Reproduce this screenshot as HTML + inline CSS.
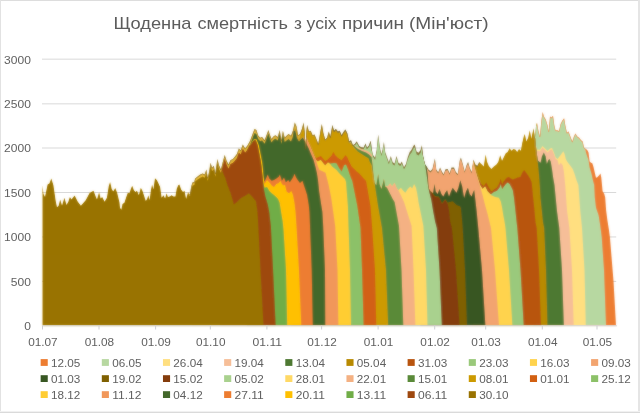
<!DOCTYPE html>
<html><head><meta charset="utf-8"><title>chart</title>
<style>html,body{margin:0;padding:0;background:#fff;overflow:hidden}body{width:640px;height:413px;font-family:"Liberation Sans",sans-serif}</style></head>
<body>
<svg width="640" height="413" viewBox="0 0 640 413" style="display:block;font-family:'Liberation Sans',sans-serif;will-change:transform;opacity:0.999">
<rect x="0" y="0" width="640" height="413" fill="#fff"/>
<rect x="42" y="58.65" width="574.2" height="1" fill="#D9D9D9"/>
<rect x="42" y="103.35" width="574.2" height="1" fill="#D9D9D9"/>
<rect x="42" y="147.50" width="574.2" height="1" fill="#D9D9D9"/>
<rect x="42" y="192.00" width="574.2" height="1" fill="#D9D9D9"/>
<rect x="42" y="236.45" width="574.2" height="1" fill="#D9D9D9"/>
<rect x="42" y="280.90" width="574.2" height="1" fill="#D9D9D9"/>
<text x="30.9" y="63.5" font-size="11.7" fill="#606060" text-anchor="end" textLength="26.8" lengthAdjust="spacingAndGlyphs">3000</text>
<text x="30.9" y="107.9" font-size="11.7" fill="#606060" text-anchor="end" textLength="26.8" lengthAdjust="spacingAndGlyphs">2500</text>
<text x="30.9" y="152.3" font-size="11.7" fill="#606060" text-anchor="end" textLength="26.8" lengthAdjust="spacingAndGlyphs">2000</text>
<text x="30.9" y="196.7" font-size="11.7" fill="#606060" text-anchor="end" textLength="26.8" lengthAdjust="spacingAndGlyphs">1500</text>
<text x="30.9" y="241.1" font-size="11.7" fill="#606060" text-anchor="end" textLength="26.8" lengthAdjust="spacingAndGlyphs">1000</text>
<text x="30.9" y="285.5" font-size="11.7" fill="#606060" text-anchor="end" textLength="20.1" lengthAdjust="spacingAndGlyphs">500</text>
<text x="30.9" y="329.9" font-size="11.7" fill="#606060" text-anchor="end" textLength="6.7" lengthAdjust="spacingAndGlyphs">0</text>
<filter id="soft" x="-2%" y="-2%" width="104%" height="104%"><feGaussianBlur in="SourceGraphic" stdDeviation="0.8" result="b"/><feComposite in="SourceGraphic" in2="b" operator="arithmetic" k1="0" k2="0.55" k3="0.45" k4="0"/></filter>
<g filter="url(#soft)">
<clipPath id="env"><polygon points="42.5,325.5 42.5,185.2 43.5,193.9 45.0,197.0 47.6,184.4 49.4,183.6 51.3,178.6 53.4,185.2 55.7,200.9 57.0,207.2 58.6,205.7 60.2,199.4 62.0,205.7 64.4,197.8 66.5,204.9 68.3,201.7 69.9,197.0 71.5,199.4 74.6,195.4 77.8,201.7 80.9,205.7 85.7,200.2 89.6,193.1 93.5,190.7 95.9,197.0 97.0,199.4 99.1,192.3 100.6,198.6 102.2,197.0 104.6,201.7 106.9,197.8 108.8,186.0 110.1,182.0 111.7,189.1 113.2,191.5 115.3,188.0 117.2,193.1 119.5,202.5 120.0,207.8 121.3,209.7 122.5,204.0 124.4,202.8 126.3,197.1 127.8,192.7 129.4,193.3 131.1,188.3 132.2,185.8 133.9,190.2 135.4,192.1 137.0,190.8 138.9,195.2 140.8,187.7 142.4,190.8 143.9,195.2 145.8,200.9 147.1,199.0 148.3,195.2 149.6,200.3 150.9,190.2 152.1,184.5 153.4,189.6 155.0,178.2 156.8,180.1 158.4,183.3 160.1,187.0 161.6,197.7 163.5,195.2 165.1,198.4 166.6,193.3 167.9,197.1 169.7,196.5 171.6,195.2 173.5,196.5 175.4,196.5 176.7,188.9 178.2,185.2 179.4,184.5 181.1,189.6 183.0,192.1 184.5,190.8 186.0,198.5 186.1,199.0 188.0,192.1 189.9,194.6 191.2,186.4 192.0,183.9 192.4,182.6 194.3,182.0 195.1,178.4 197.6,176.5 200.2,174.6 202.7,173.4 204.6,174.6 206.4,169.6 207.7,177.8 209.2,171.5 210.5,162.7 212.1,167.7 213.8,165.8 215.3,173.4 217.4,158.9 219.0,165.2 220.0,167.5 220.9,169.6 222.8,162.0 224.7,155.1 226.6,160.8 228.5,164.6 230.4,160.2 232.9,158.9 235.0,156.6 236.9,154.0 238.8,148.4 240.7,150.3 242.8,144.6 245.1,148.4 247.6,145.2 250.1,140.8 252.6,133.9 254.5,128.9 255.0,129.2 256.4,130.1 258.0,134.9 258.3,135.8 260.2,137.7 262.1,137.0 264.6,140.2 266.5,135.2 268.4,130.1 269.6,133.9 271.5,138.9 273.4,136.4 275.3,135.2 277.8,137.0 279.7,130.1 280.0,132.0 281.3,140.2 282.9,130.7 284.7,137.7 286.6,135.8 288.0,134.4 288.5,133.9 291.0,135.8 292.9,130.7 293.0,130.3 294.8,122.6 296.0,125.3 296.5,126.4 298.1,135.2 300.0,133.9 301.9,128.9 303.6,122.6 304.0,126.0 304.6,131.0 305.6,148.5 306.4,131.0 307.1,125.1 308.9,131.4 310.7,130.8 312.6,135.2 314.5,134.6 316.4,139.0 318.3,144.0 320.2,132.7 321.8,123.9 323.3,132.7 325.2,139.6 327.1,137.7 328.8,131.4 330.3,137.1 332.4,125.1 334.0,130.8 335.9,128.9 337.8,131.4 339.7,130.8 341.6,135.2 343.5,132.0 345.4,129.5 347.3,133.3 349.2,141.5 351.0,140.2 352.9,145.3 354.8,144.0 356.7,141.5 359.2,145.9 361.1,147.2 363.6,147.8 365.5,143.4 366.9,147.7 368.8,145.8 370.7,140.7 371.9,150.2 372.0,150.6 373.2,155.2 374.0,156.3 375.1,157.7 376.6,150.2 378.2,134.4 379.9,147.7 381.4,154.0 382.6,149.6 383.9,142.0 385.2,152.1 387.0,157.1 388.9,162.2 390.8,155.9 392.7,162.2 394.6,163.4 396.5,155.9 398.4,162.8 400.3,164.0 401.8,161.5 404.0,167.2 405.0,165.5 405.9,164.0 407.8,157.1 409.7,152.1 410.0,151.7 411.6,149.6 413.5,145.8 414.7,144.5 416.6,151.4 418.5,152.7 420.4,150.2 421.0,148.2 421.9,145.2 423.2,156.5 424.0,160.2 424.8,164.0 426.7,166.6 428.6,169.7 430.5,171.0 432.4,169.1 433.6,164.0 434.9,158.6 436.3,169.5 438.2,172.2 440.1,167.4 442.0,171.8 443.6,174.2 445.5,169.3 447.7,168.9 449.6,173.3 451.5,167.6 454.0,167.6 455.9,172.0 457.8,173.9 459.7,160.7 460.9,157.6 462.8,163.9 464.7,171.4 466.6,165.1 468.1,162.0 469.7,167.6 471.6,172.0 473.5,159.4 475.4,164.5 477.0,165.5 477.3,165.7 479.2,162.0 480.0,162.8 481.9,164.6 483.8,166.5 485.7,154.6 486.9,161.5 488.8,165.9 491.3,169.0 493.9,166.5 496.4,164.6 498.3,162.1 500.2,155.2 502.0,160.9 503.9,157.1 505.8,153.3 507.7,152.0 509.6,148.3 511.5,150.8 513.4,148.9 515.3,149.5 517.2,152.0 519.0,148.9 520.9,150.8 522.3,143.0 523.8,136.5 524.8,134.0 526.3,141.6 528.2,137.8 529.8,130.2 531.3,139.0 532.6,132.7 533.6,128.3 534.9,137.8 536.1,125.2 537.0,122.7 538.3,130.2 539.9,136.5 541.4,120.2 542.7,112.0 543.9,116.4 545.8,119.5 547.5,125.2 548.7,131.5 550.0,116.4 551.5,117.6 553.0,115.7 554.3,125.2 555.5,130.2 557.2,130.2 559.0,130.9 560.6,123.9 562.2,120.8 564.1,118.3 565.3,125.2 566.9,132.7 568.5,131.5 570.4,136.5 572.3,141.6 573.9,136.5 575.4,133.4 577.3,136.5 579.2,137.8 581.1,140.3 582.7,141.6 583.0,143.0 584.0,147.5 585.5,148.8 587.0,149.9 587.2,150.1 588.5,152.6 589.7,161.4 591.0,162.7 592.3,163.3 593.5,167.1 594.8,172.7 596.0,177.8 597.3,177.2 599.2,175.3 600.5,173.4 601.3,177.8 602.0,185.0 602.6,191.3 604.2,193.8 605.2,197.6 606.1,210.2 607.4,220.3 609.0,230.3 609.9,237.0 613.5,281.0 616.0,325.5 616.0,325.5"/></clipPath>
<g clip-path="url(#env)">
<rect x="42" y="90" width="258" height="240" fill="#D9AE35"/>
<rect x="300" y="90" width="30" height="240" fill="#C79A2A"/>
<rect x="330" y="90" width="150" height="240" fill="#857030"/>
<rect x="480" y="90" width="57" height="240" fill="#B88A00"/>
<rect x="537" y="90" width="49" height="240" fill="#E6A365"/>
<rect x="586" y="90" width="34" height="240" fill="#ED7D31"/>
<polygon points="191.2,325.5 191.2,188.0 192.0,185.9 192.4,184.6 194.3,184.0 195.1,180.5 197.6,178.6 200.2,176.7 202.7,175.6 204.6,176.8 206.4,171.9 207.7,180.1 209.2,173.8 210.5,165.0 212.1,170.1 213.8,168.2 215.3,175.8 217.4,161.4 219.0,167.7 220.0,170.0 220.9,172.1 222.8,164.6 224.7,157.8 226.6,163.5 228.5,167.4 230.4,163.0 232.9,161.8 235.0,159.6 236.9,157.0 238.8,151.4 240.7,153.3 242.8,147.6 245.1,151.4 247.6,148.2 250.1,143.8 252.6,136.9 254.5,131.9 255.0,132.2 256.4,132.9 258.0,137.4 258.0,325.5" fill="#F3C233"/>
<polygon points="533.2,325.5 533.2,131.1 533.6,129.3 534.9,138.8 536.1,126.2 537.0,123.7 538.3,131.2 539.9,137.5 541.4,121.2 542.7,113.0 543.9,117.4 545.8,120.5 547.5,126.2 548.7,132.5 550.0,117.4 551.5,118.6 553.0,116.7 554.3,126.2 555.5,131.2 557.2,131.2 559.0,131.9 560.6,124.9 562.2,121.8 564.1,119.3 565.3,126.2 566.9,133.7 568.5,132.5 570.4,137.5 572.3,142.6 573.9,137.5 575.4,134.4 577.3,137.5 579.2,138.8 581.1,141.3 582.7,142.6 583.0,144.0 583.5,146.3 586.0,152.6 588.5,160.2 589.7,167.7 591.6,174.0 592.9,180.3 594.2,185.0 594.8,197.6 596.0,207.7 598.6,215.2 600.2,225.3 601.7,237.0 604.0,270.0 606.0,325.5 606.0,325.5" fill="#B7D8A1"/>
<polygon points="533.2,325.5 533.2,131.1 533.6,129.3 534.9,138.8 535.2,138.0 535.8,145.0 537.0,149.5 540.0,149.8 542.5,146.1 545.0,148.6 547.6,151.1 550.1,148.6 552.0,147.9 553.9,152.5 555.7,157.6 557.6,158.9 559.5,156.4 561.4,153.9 563.3,151.3 564.6,153.9 565.8,158.9 567.1,161.4 569.0,163.9 570.9,166.5 572.7,169.0 574.6,174.0 576.5,180.3 578.4,185.0 580.3,211.0 582.0,228.0 584.5,270.0 585.8,325.5 585.8,325.5" fill="#FFDF80"/>
<polygon points="533.2,325.5 533.2,131.1 533.6,129.3 534.9,138.8 535.2,138.0 535.8,146.0 537.0,151.0 540.0,151.3 542.5,147.6 545.0,150.1 547.6,152.6 550.1,150.1 552.0,149.4 553.9,153.9 555.7,158.9 557.6,160.2 558.9,165.2 560.8,162.7 562.7,165.2 563.9,171.5 565.2,185.0 567.1,211.0 569.4,228.0 572.0,270.0 573.7,325.5 573.7,325.5" fill="#F6BE98"/>
<polygon points="533.2,325.5 533.2,131.1 533.6,129.3 534.9,138.8 535.2,138.0 535.9,146.0 537.0,155.0 538.0,160.5 540.5,162.7 541.9,156.4 543.8,152.6 545.7,156.4 546.9,163.9 548.2,160.2 549.4,158.9 550.7,161.4 552.0,169.0 553.2,177.8 554.5,185.0 557.0,211.0 559.3,228.0 562.0,270.0 563.9,325.5 563.9,325.5" fill="#4E7932"/>
<polygon points="472.2,325.5 472.2,169.4 473.5,160.8 475.4,165.9 477.0,166.9 477.3,167.1 479.2,163.1 480.0,163.8 481.9,165.6 483.8,167.5 485.7,155.6 486.9,162.5 488.8,166.9 491.3,170.0 493.9,167.5 496.4,165.6 498.3,163.1 500.2,156.2 502.0,161.9 503.9,158.1 505.8,154.3 507.7,153.0 509.6,149.3 511.5,151.8 513.4,149.9 515.3,150.5 517.2,153.0 519.0,149.9 520.9,151.8 522.3,144.0 523.8,137.5 524.8,135.0 526.3,142.6 528.2,138.8 529.8,131.2 531.3,140.0 532.6,133.7 533.6,129.3 534.9,138.8 535.2,138.0 535.9,146.0 537.0,155.0 538.4,167.8 539.2,176.3 539.9,186.4 540.5,197.7 541.8,210.3 543.0,222.0 544.2,228.0 546.0,270.0 547.5,325.5 547.5,325.5" fill="#B88A00"/>
<polygon points="472.2,325.5 472.2,169.4 473.5,160.8 474.2,166.0 476.7,174.0 478.6,179.5 481.3,184.0 483.8,186.0 486.3,182.6 488.9,187.6 491.4,191.5 493.9,189.5 497.0,187.6 499.6,182.6 500.8,178.8 502.1,184.5 503.3,182.0 505.2,179.4 507.1,177.6 509.0,176.9 510.9,178.4 512.8,179.5 515.3,178.4 517.8,177.6 520.3,177.0 522.2,172.8 524.1,170.0 526.0,172.5 527.9,175.0 529.8,178.0 531.7,182.5 532.9,195.2 534.2,207.8 535.5,222.0 536.7,228.0 539.0,270.0 541.0,325.5 541.0,325.5" fill="#B8540F"/>
<polygon points="472.2,325.5 472.2,169.4 473.5,160.8 474.2,166.0 476.7,174.7 478.6,180.5 480.0,185.1 482.6,188.9 485.1,186.4 487.6,191.4 490.1,193.9 491.4,194.0 493.9,192.0 497.0,190.8 499.6,187.6 500.8,183.9 502.1,188.9 504.0,186.4 505.9,183.9 507.7,182.6 509.6,183.9 511.5,187.6 512.8,190.2 514.0,197.7 515.1,207.8 515.9,215.3 516.6,222.0 517.3,228.0 520.5,270.0 523.7,325.5 523.7,325.5" fill="#9AC97B"/>
<polygon points="472.2,325.5 472.2,169.4 473.5,160.8 474.2,166.0 476.7,174.7 478.6,180.5 480.0,185.1 482.6,188.9 485.1,186.4 487.6,191.4 490.1,193.9 491.4,195.2 495.2,197.1 498.9,197.7 500.8,201.5 502.1,207.8 503.3,215.3 504.6,222.0 505.5,228.0 509.0,270.0 512.4,325.5 512.4,325.5" fill="#FFD34D"/>
<polygon points="421.3,325.5 421.3,149.9 421.9,147.6 423.2,158.3 424.0,161.7 424.8,165.4 426.7,168.0 428.6,171.1 430.5,172.4 432.4,170.5 433.6,165.4 434.9,160.0 436.3,170.9 438.2,173.6 440.1,168.8 442.0,173.2 443.6,175.6 445.5,170.7 447.7,170.3 449.6,174.7 451.5,169.0 454.0,169.0 455.9,173.4 457.8,175.3 459.7,162.1 460.9,159.0 462.8,165.3 464.7,172.8 466.6,166.5 468.1,163.4 469.7,169.0 471.6,173.4 473.5,160.8 474.2,166.0 476.7,175.2 478.6,181.5 480.5,187.8 482.6,195.2 485.1,205.3 487.6,214.1 489.5,222.0 491.0,228.0 495.0,270.0 499.0,325.5 499.0,325.5" fill="#F2A46F"/>
<polygon points="420.3,325.5 420.3,153.1 420.4,153.0 421.0,151.0 421.9,147.6 423.2,158.3 423.3,153.8 425.9,162.6 427.8,175.2 428.5,186.5 429.4,190.3 431.3,194.1 433.2,192.8 434.5,184.0 435.7,191.6 437.6,194.1 439.5,189.0 441.4,194.1 443.3,196.6 445.2,192.8 447.1,190.3 449.0,196.6 450.9,191.6 452.7,187.8 454.6,190.3 456.5,192.8 458.4,187.8 460.3,180.2 462.2,186.5 464.1,197.9 466.0,191.6 467.9,187.8 469.7,194.1 471.6,196.6 472.9,192.8 474.2,190.0 475.4,200.0 476.7,211.4 477.9,224.0 478.3,228.0 482.0,270.0 485.4,325.5 485.4,325.5" fill="#385723"/>
<polygon points="420.3,325.5 420.3,153.1 420.4,153.0 421.0,151.0 421.9,147.6 422.3,153.8 424.8,162.6 426.7,175.2 428.0,185.3 429.0,189.0 430.5,191.0 432.6,192.8 435.0,196.0 438.9,196.6 442.0,202.9 445.2,199.0 447.7,202.5 452.7,201.3 456.5,205.1 460.3,206.4 460.9,208.0 462.2,221.5 462.7,228.0 465.0,270.0 467.0,325.5 467.0,325.5" fill="#7F6000"/>
<polygon points="420.3,325.5 420.3,153.1 420.4,153.0 421.0,151.0 421.9,147.6 422.3,153.8 424.8,162.6 426.7,175.2 428.0,185.3 429.0,190.0 430.5,192.0 432.6,193.8 435.0,197.0 438.9,197.6 442.0,203.9 445.2,200.0 447.7,203.9 449.0,210.2 450.2,221.5 451.9,228.0 456.0,270.0 459.5,325.5 459.5,325.5" fill="#843C0C"/>
<polygon points="347.5,325.5 347.5,135.7 349.2,143.0 351.0,141.7 352.9,146.8 354.8,145.5 356.7,143.0 359.2,147.4 361.1,148.7 363.6,149.3 365.5,144.9 366.9,149.2 368.8,147.3 370.7,142.2 371.9,151.7 372.0,152.1 373.2,157.0 374.0,158.3 375.1,159.7 376.6,152.2 378.2,136.4 379.9,149.7 381.4,156.0 382.6,151.6 383.9,144.0 385.2,154.1 387.0,159.1 388.9,164.2 390.8,157.9 392.7,164.2 394.6,165.4 396.5,157.9 398.4,164.8 400.3,166.0 401.8,163.5 404.0,169.2 405.0,167.5 405.9,166.1 407.8,159.5 409.7,154.9 410.0,154.5 411.6,152.4 413.5,148.6 414.7,147.3 416.6,154.2 418.5,155.5 420.4,153.0 421.0,151.0 421.9,147.6 422.3,153.8 424.8,162.6 426.7,175.2 428.0,185.3 428.8,190.0 431.3,200.0 433.2,211.4 435.1,221.5 436.8,228.0 439.5,270.0 441.8,325.5 441.8,325.5" fill="#A9D18E"/>
<polygon points="347.5,325.5 347.5,135.7 349.2,143.0 349.5,143.0 350.4,142.6 354.2,145.5 358.0,148.0 362.0,149.5 366.0,150.5 369.0,152.0 371.8,155.0 372.6,165.0 373.5,175.0 374.4,182.7 376.3,185.3 378.2,173.9 379.5,184.0 381.4,188.0 383.9,179.0 385.2,186.0 387.0,186.5 388.3,185.9 390.2,183.4 392.1,186.5 394.6,182.7 396.5,187.8 398.4,190.3 400.9,187.8 402.8,190.3 405.3,192.8 407.8,189.0 410.3,186.5 412.2,188.4 414.1,184.0 416.0,187.8 417.3,194.1 418.5,202.0 423.4,226.0 426.0,270.0 427.5,325.5 427.5,325.5" fill="#FFD966"/>
<polygon points="347.5,325.5 347.5,135.7 349.2,143.0 349.5,143.0 350.4,142.6 354.2,145.5 358.0,148.0 362.0,149.5 366.0,150.5 369.0,152.0 371.8,155.0 372.6,165.0 373.5,175.0 374.4,182.7 376.3,185.3 378.2,173.9 379.5,184.0 381.4,188.0 383.9,179.0 385.2,186.0 387.0,186.5 388.3,185.9 390.2,183.4 392.1,186.5 394.6,182.7 396.5,187.8 398.4,190.3 401.5,196.6 404.0,202.0 411.6,226.0 413.5,270.0 415.4,325.5 415.4,325.5" fill="#F4B183"/>
<polygon points="347.5,325.5 347.5,135.7 349.2,143.0 349.5,143.0 350.4,142.6 354.2,146.0 358.0,149.0 362.0,151.0 366.0,152.5 369.0,154.5 371.5,157.0 372.6,165.0 373.5,175.0 374.4,182.7 376.3,185.3 378.2,173.9 379.5,184.0 381.4,189.0 383.9,179.0 385.2,186.5 387.0,187.8 388.3,190.3 390.2,194.1 392.7,199.1 394.6,202.0 399.0,226.0 401.5,270.0 403.3,325.5 403.3,325.5" fill="#5A8A39"/>
<polygon points="291.5,325.5 291.5,140.2 292.9,136.7 293.0,136.3 294.8,128.0 296.0,130.3 296.5,131.2 298.1,139.4 300.0,137.4 301.9,131.5 303.6,124.3 304.0,127.5 304.6,132.5 305.6,150.0 306.4,132.5 307.1,126.6 308.9,132.9 310.7,132.3 312.6,136.7 314.5,136.1 316.4,140.5 318.3,145.5 320.2,134.2 321.8,125.4 323.3,134.2 325.2,141.1 327.1,139.2 328.8,132.9 330.3,138.6 332.4,126.6 334.0,132.3 335.9,130.4 337.8,132.9 339.7,132.3 341.6,136.7 343.5,133.5 345.4,131.0 347.3,134.8 349.2,143.0 349.5,143.0 350.4,142.6 354.2,147.6 357.9,151.4 361.7,153.9 365.5,156.4 368.6,158.3 369.9,162.1 371.8,165.2 373.0,172.8 374.3,181.0 378.1,206.0 382.0,228.0 386.0,270.0 388.2,325.5 388.2,325.5" fill="#CC9A00"/>
<polygon points="291.5,325.5 291.5,140.2 292.9,136.7 293.0,136.3 293.5,131.0 295.2,130.6 297.0,138.0 299.0,141.5 301.0,139.0 303.0,137.5 304.2,139.0 304.8,134.0 306.5,137.5 311.0,147.5 313.4,153.5 315.4,158.0 317.6,157.5 320.8,156.0 323.3,159.0 325.2,161.0 327.1,160.0 331.5,155.8 333.4,152.0 335.3,155.2 337.8,157.7 341.6,160.2 343.5,157.7 345.3,155.2 347.2,157.0 349.1,161.4 351.6,166.5 354.2,169.0 356.7,171.5 359.8,174.0 363.0,177.8 366.1,181.0 370.5,206.0 372.2,228.0 375.0,270.0 376.3,325.5 376.3,325.5" fill="#D26012"/>
<polygon points="291.5,325.5 291.5,140.2 292.9,136.7 293.0,136.3 293.5,131.0 295.2,130.6 297.0,138.0 299.0,141.5 301.0,139.0 303.0,137.5 304.2,139.0 304.8,134.0 306.5,138.0 311.0,148.3 313.6,154.5 316.0,160.0 317.8,161.5 320.8,160.0 323.0,163.0 325.2,165.5 328.0,162.5 330.2,163.5 334.0,163.0 336.5,163.3 339.0,167.7 341.6,171.5 344.1,165.2 346.0,164.6 347.9,169.0 349.5,174.0 351.0,178.0 352.3,181.0 357.3,206.0 360.5,228.0 362.0,270.0 363.6,325.5 363.6,325.5" fill="#8CC168"/>
<polygon points="291.5,325.5 291.5,140.2 292.9,136.7 293.0,136.3 293.5,131.0 295.2,130.6 297.0,138.0 299.0,141.5 301.0,139.0 303.0,137.5 304.2,139.0 304.8,134.0 306.5,138.0 311.0,148.3 313.6,154.5 316.0,160.0 317.8,161.5 320.8,160.0 323.0,163.0 325.2,165.5 328.0,162.5 330.2,164.0 332.1,166.5 334.0,168.0 336.5,170.0 339.0,173.0 342.0,176.0 345.0,179.0 346.0,182.0 347.9,206.0 348.5,226.0 350.0,270.0 351.0,325.5 351.0,325.5" fill="#FFCD33"/>
<polygon points="291.5,325.5 291.5,140.2 292.9,136.7 293.0,136.3 293.5,131.0 295.2,130.6 297.0,138.0 299.0,141.5 301.0,139.0 303.0,137.5 304.2,139.0 304.8,134.0 306.5,138.0 311.0,148.3 313.6,154.5 316.0,160.0 317.8,166.0 319.5,170.0 322.0,171.0 325.5,172.8 327.4,180.0 328.7,185.2 331.2,197.8 333.0,210.4 335.2,226.0 337.5,270.0 338.4,325.5 338.4,325.5" fill="#F1975A"/>
<polygon points="247.0,325.5 247.0,150.0 247.6,149.2 250.1,144.8 252.6,137.9 254.5,132.9 255.0,133.2 256.4,133.9 258.0,138.4 258.3,139.3 260.2,141.2 262.1,140.5 264.6,143.7 266.5,138.7 268.4,133.6 269.6,137.4 271.5,142.4 273.4,139.9 275.3,138.7 277.8,140.5 279.7,133.6 280.0,135.5 281.3,143.9 282.9,134.7 284.7,142.1 286.6,140.5 288.0,139.4 288.5,139.0 291.0,141.4 292.9,136.7 293.0,136.3 293.5,131.0 295.2,130.6 297.0,138.0 299.0,141.5 301.0,139.0 303.0,137.5 304.0,140.0 306.0,143.0 308.6,148.3 311.2,154.5 313.6,160.0 315.5,167.0 316.9,173.0 318.0,180.0 319.2,191.5 321.1,204.0 322.4,212.0 323.2,226.0 325.0,270.0 325.3,325.5 325.3,325.5" fill="#43682B"/>
<polygon points="247.0,325.5 247.0,150.0 247.6,149.2 249.0,146.3 251.0,144.0 253.9,140.2 255.8,140.2 257.7,145.2 259.6,155.3 260.8,161.6 261.3,166.0 262.0,172.0 263.5,180.0 264.6,181.5 267.8,174.4 269.3,178.4 271.7,180.7 274.0,180.0 276.4,178.4 278.8,176.8 279.9,174.4 281.9,180.7 284.0,177.6 285.9,182.3 288.2,180.0 289.8,182.3 293.0,177.6 294.5,173.7 296.1,177.6 297.7,180.0 300.0,183.1 302.4,180.7 304.0,185.5 305.6,190.2 307.1,194.9 308.7,204.4 309.5,212.2 310.0,226.0 311.7,270.0 312.8,325.5 312.8,325.5" fill="#ED7D31"/>
<polygon points="247.0,325.5 247.0,150.0 247.6,149.2 249.0,146.3 251.0,143.5 253.9,139.2 256.6,139.2 258.9,145.2 260.9,155.3 262.1,161.6 262.7,166.0 263.3,173.0 264.2,182.0 264.6,183.9 267.0,180.0 269.3,182.3 271.7,185.5 274.0,187.0 276.4,183.9 278.8,183.1 280.4,180.7 281.9,183.9 283.5,185.5 285.0,184.7 286.7,191.8 289.0,193.3 291.4,191.0 293.0,194.9 294.5,202.8 295.6,212.2 296.5,226.0 299.0,270.0 301.3,325.5 301.3,325.5" fill="#FFC000"/>
<polygon points="247.0,325.5 247.0,150.0 247.6,149.2 249.0,146.3 251.0,144.0 253.9,140.2 255.8,140.2 257.7,145.2 259.6,155.3 260.8,161.6 261.5,166.0 262.2,174.0 263.5,184.0 264.6,187.8 267.0,187.0 269.3,191.0 271.7,193.3 274.0,195.0 276.4,197.3 278.0,198.9 279.6,202.8 281.1,212.2 282.7,221.7 283.5,230.0 286.0,270.0 287.2,325.5 287.2,325.5" fill="#70AD47"/>
<polygon points="220.2,325.5 220.2,171.5 220.9,173.1 222.8,165.6 224.7,158.8 226.6,164.5 228.5,168.4 230.4,164.0 232.9,162.8 235.0,160.6 236.9,158.0 238.8,152.4 240.7,154.3 242.8,148.6 245.1,152.4 247.6,149.2 249.0,146.3 251.0,144.0 253.9,140.2 255.8,140.2 257.7,145.2 259.6,155.3 260.8,161.6 261.5,167.0 262.2,172.9 263.0,180.7 263.8,188.6 265.4,196.5 267.8,204.4 269.3,212.2 270.9,226.0 273.1,270.0 275.7,325.5 275.7,325.5" fill="#9E480E"/>
<polygon points="42.5,325.5 42.5,185.2 43.5,193.9 45.0,197.0 47.6,184.4 49.4,183.6 51.3,178.6 53.4,185.2 55.7,200.9 57.0,207.2 58.6,205.7 60.2,199.4 62.0,205.7 64.4,197.8 66.5,204.9 68.3,201.7 69.9,197.0 71.5,199.4 74.6,195.4 77.8,201.7 80.9,205.7 85.7,200.2 89.6,193.1 93.5,190.7 95.9,197.0 97.0,199.4 99.1,192.3 100.6,198.6 102.2,197.0 104.6,201.7 106.9,197.8 108.8,186.0 110.1,182.0 111.7,189.1 113.2,191.5 115.3,188.0 117.2,193.1 119.5,202.5 120.0,207.8 121.3,209.7 122.5,204.0 124.4,202.8 126.3,197.1 127.8,192.7 129.4,193.3 131.1,188.3 132.2,185.8 133.9,190.2 135.4,192.1 137.0,190.8 138.9,195.2 140.8,187.7 142.4,190.8 143.9,195.2 145.8,200.9 147.1,199.0 148.3,195.2 149.6,200.3 150.9,190.2 152.1,184.5 153.4,189.6 155.0,178.2 156.8,180.1 158.4,183.3 160.1,187.0 161.6,197.7 163.5,195.2 165.1,198.4 166.6,193.3 167.9,197.1 169.7,196.5 171.6,195.2 173.5,196.5 175.4,196.5 176.7,188.9 178.2,185.2 179.4,184.5 181.1,189.6 183.0,192.1 184.5,190.8 186.0,198.5 186.1,199.1 188.0,193.1 189.9,196.6 191.2,189.0 192.0,186.9 192.4,185.6 194.3,185.0 195.1,181.5 197.6,179.6 200.2,177.7 202.7,176.6 204.6,177.8 206.4,172.9 207.7,181.1 209.2,174.8 210.5,166.0 212.1,171.1 213.8,169.2 215.3,176.8 217.4,162.4 219.0,168.7 220.0,171.0 220.9,173.1 222.2,170.2 223.5,174.0 225.3,178.0 227.6,185.5 230.7,193.3 233.9,204.4 237.0,202.0 241.0,198.0 246.5,195.0 248.9,193.3 252.0,196.5 256.0,201.2 257.5,212.0 258.3,226.0 260.5,270.0 263.5,325.5 263.5,325.5" fill="#997300"/>
<polyline points="189.9,194.6 191.2,186.4 192.0,183.9 192.4,182.6 194.3,182.0 195.1,178.4 197.6,176.5 200.2,174.6 202.7,173.4 204.6,174.6 206.4,169.6 207.7,177.8 209.2,171.5 210.5,162.7 212.1,167.7 213.8,165.8 215.3,173.4 217.4,158.9 219.0,165.2 220.0,167.5 220.9,169.6 222.8,162.0 224.7,155.1 226.6,160.8 228.5,164.6 230.4,160.2 232.9,158.9 235.0,156.6 236.9,154.0 238.8,148.4 240.7,150.3 242.8,144.6 245.1,148.4 247.6,145.2 250.1,140.8 252.6,133.9 254.5,128.9 255.0,129.2 256.4,130.1 258.0,134.9 258.3,135.8 260.2,137.7 262.1,137.0 264.6,140.2 266.5,135.2 268.4,130.1 269.6,133.9 271.5,138.9 273.4,136.4 275.3,135.2 277.8,137.0 279.7,130.1 280.0,132.0 281.3,140.2 282.9,130.7 284.7,137.7 286.6,135.8 288.0,134.4 288.5,133.9 291.0,135.8 292.9,130.7 293.0,130.3 294.8,122.6 296.0,125.3 296.5,126.4 298.1,135.2 300.0,133.9 301.9,128.9 303.6,122.6 304.0,126.0 304.6,131.0 305.6,148.5 306.4,131.0 307.1,125.1 308.9,131.4 310.7,130.8 312.6,135.2 314.5,134.6 316.4,139.0 318.3,144.0 320.2,132.7 321.8,123.9 323.3,132.7 325.2,139.6 327.1,137.7 328.8,131.4 330.3,137.1 332.4,125.1 334.0,130.8 335.9,128.9 337.8,131.4 339.7,130.8 341.6,135.2 343.5,132.0 345.4,129.5 347.3,133.3 349.2,141.5 351.0,140.2 352.9,145.3 354.8,144.0 356.7,141.5 359.2,145.9 361.1,147.2 363.6,147.8 365.5,143.4 366.9,147.7 368.8,145.8 370.7,140.7 371.9,150.2 372.0,150.6" fill="none" stroke="#7A6220" stroke-width="1.4" stroke-opacity="0.7" stroke-linejoin="round"/>
<polyline points="537.0,122.7 538.3,130.2 539.9,136.5 541.4,120.2 542.7,112.0 543.9,116.4 545.8,119.5 547.5,125.2 548.7,131.5 550.0,116.4 551.5,117.6 553.0,115.7 554.3,125.2 555.5,130.2 557.2,130.2 559.0,130.9 560.6,123.9 562.2,120.8 564.1,118.3 565.3,125.2 566.9,132.7 568.5,131.5 570.4,136.5 572.3,141.6 573.9,136.5 575.4,133.4 577.3,136.5 579.2,137.8 581.1,140.3 582.7,141.6 583.0,143.0 584.0,147.5 585.5,148.8 587.0,149.9 587.2,150.1" fill="none" stroke="#ED7D31" stroke-width="1.2" stroke-opacity="0.6" stroke-linejoin="round"/>
</g>
</g>
<rect x="42.5" y="325.3" width="574.5" height="1" fill="#D9D9D9"/>
<rect x="42.0" y="325.5" width="1" height="4" fill="#CFCFD4"/>
<text x="42.9" y="346.4" font-size="11.7" fill="#606060" text-anchor="middle" textLength="29.5" lengthAdjust="spacingAndGlyphs">01.07</text>
<rect x="98.5" y="325.5" width="1" height="4" fill="#CFCFD4"/>
<text x="99.4" y="346.4" font-size="11.7" fill="#606060" text-anchor="middle" textLength="29.5" lengthAdjust="spacingAndGlyphs">01.08</text>
<rect x="155.1" y="325.5" width="1" height="4" fill="#CFCFD4"/>
<text x="156.0" y="346.4" font-size="11.7" fill="#606060" text-anchor="middle" textLength="29.5" lengthAdjust="spacingAndGlyphs">01.09</text>
<rect x="209.8" y="325.5" width="1" height="4" fill="#CFCFD4"/>
<text x="210.7" y="346.4" font-size="11.7" fill="#606060" text-anchor="middle" textLength="29.5" lengthAdjust="spacingAndGlyphs">01.10</text>
<rect x="266.4" y="325.5" width="1" height="4" fill="#CFCFD4"/>
<text x="267.3" y="346.4" font-size="11.7" fill="#606060" text-anchor="middle" textLength="29.5" lengthAdjust="spacingAndGlyphs">01.11</text>
<rect x="321.1" y="325.5" width="1" height="4" fill="#CFCFD4"/>
<text x="322.0" y="346.4" font-size="11.7" fill="#606060" text-anchor="middle" textLength="29.5" lengthAdjust="spacingAndGlyphs">01.12</text>
<rect x="377.6" y="325.5" width="1" height="4" fill="#CFCFD4"/>
<text x="378.5" y="346.4" font-size="11.7" fill="#606060" text-anchor="middle" textLength="29.5" lengthAdjust="spacingAndGlyphs">01.01</text>
<rect x="434.2" y="325.5" width="1" height="4" fill="#CFCFD4"/>
<text x="435.1" y="346.4" font-size="11.7" fill="#606060" text-anchor="middle" textLength="29.5" lengthAdjust="spacingAndGlyphs">01.02</text>
<rect x="485.2" y="325.5" width="1" height="4" fill="#CFCFD4"/>
<text x="486.1" y="346.4" font-size="11.7" fill="#606060" text-anchor="middle" textLength="29.5" lengthAdjust="spacingAndGlyphs">01.03</text>
<rect x="541.8" y="325.5" width="1" height="4" fill="#CFCFD4"/>
<text x="542.7" y="346.4" font-size="11.7" fill="#606060" text-anchor="middle" textLength="29.5" lengthAdjust="spacingAndGlyphs">01.04</text>
<rect x="596.5" y="325.5" width="1" height="4" fill="#CFCFD4"/>
<text x="597.4" y="346.4" font-size="11.7" fill="#606060" text-anchor="middle" textLength="29.5" lengthAdjust="spacingAndGlyphs">01.05</text>
<text x="113.4" y="29" font-size="16.4" fill="#5c5c5c" textLength="78.0" lengthAdjust="spacingAndGlyphs">Щоденна</text>
<text x="197.4" y="29" font-size="16.4" fill="#5c5c5c" textLength="90.6" lengthAdjust="spacingAndGlyphs">смертність</text>
<text x="293.9" y="29" font-size="16.4" fill="#5c5c5c" textLength="7.9" lengthAdjust="spacingAndGlyphs">з</text>
<text x="306.6" y="29" font-size="16.4" fill="#5c5c5c" textLength="30.0" lengthAdjust="spacingAndGlyphs">усіх</text>
<text x="342.0" y="29" font-size="16.4" fill="#5c5c5c" textLength="62.0" lengthAdjust="spacingAndGlyphs">причин</text>
<text x="408.9" y="29" font-size="16.4" fill="#5c5c5c" textLength="79.8" lengthAdjust="spacingAndGlyphs">(Мін'юст)</text>
<rect x="40.65" y="359.1" width="7.1" height="6.8" fill="#ED7D31"/>
<text x="65.70" y="366.8" font-size="11.7" fill="#606060" text-anchor="middle" textLength="29.3" lengthAdjust="spacingAndGlyphs">12.05</text>
<rect x="101.81" y="359.1" width="7.1" height="6.8" fill="#B7D8A1"/>
<text x="126.86" y="366.8" font-size="11.7" fill="#606060" text-anchor="middle" textLength="29.3" lengthAdjust="spacingAndGlyphs">06.05</text>
<rect x="162.97" y="359.1" width="7.1" height="6.8" fill="#FFDF80"/>
<text x="188.02" y="366.8" font-size="11.7" fill="#606060" text-anchor="middle" textLength="29.3" lengthAdjust="spacingAndGlyphs">26.04</text>
<rect x="224.13" y="359.1" width="7.1" height="6.8" fill="#F6BE98"/>
<text x="249.18" y="366.8" font-size="11.7" fill="#606060" text-anchor="middle" textLength="29.3" lengthAdjust="spacingAndGlyphs">19.04</text>
<rect x="285.29" y="359.1" width="7.1" height="6.8" fill="#4E7932"/>
<text x="310.34" y="366.8" font-size="11.7" fill="#606060" text-anchor="middle" textLength="29.3" lengthAdjust="spacingAndGlyphs">13.04</text>
<rect x="346.45" y="359.1" width="7.1" height="6.8" fill="#B88A00"/>
<text x="371.50" y="366.8" font-size="11.7" fill="#606060" text-anchor="middle" textLength="29.3" lengthAdjust="spacingAndGlyphs">05.04</text>
<rect x="407.61" y="359.1" width="7.1" height="6.8" fill="#B8540F"/>
<text x="432.66" y="366.8" font-size="11.7" fill="#606060" text-anchor="middle" textLength="29.3" lengthAdjust="spacingAndGlyphs">31.03</text>
<rect x="468.77" y="359.1" width="7.1" height="6.8" fill="#9AC97B"/>
<text x="493.82" y="366.8" font-size="11.7" fill="#606060" text-anchor="middle" textLength="29.3" lengthAdjust="spacingAndGlyphs">23.03</text>
<rect x="529.93" y="359.1" width="7.1" height="6.8" fill="#FFD34D"/>
<text x="554.98" y="366.8" font-size="11.7" fill="#606060" text-anchor="middle" textLength="29.3" lengthAdjust="spacingAndGlyphs">16.03</text>
<rect x="591.09" y="359.1" width="7.1" height="6.8" fill="#F2A46F"/>
<text x="616.14" y="366.8" font-size="11.7" fill="#606060" text-anchor="middle" textLength="29.3" lengthAdjust="spacingAndGlyphs">09.03</text>
<rect x="40.65" y="375.2" width="7.1" height="6.8" fill="#385723"/>
<text x="65.70" y="382.9" font-size="11.7" fill="#606060" text-anchor="middle" textLength="29.3" lengthAdjust="spacingAndGlyphs">01.03</text>
<rect x="101.81" y="375.2" width="7.1" height="6.8" fill="#7F6000"/>
<text x="126.86" y="382.9" font-size="11.7" fill="#606060" text-anchor="middle" textLength="29.3" lengthAdjust="spacingAndGlyphs">19.02</text>
<rect x="162.97" y="375.2" width="7.1" height="6.8" fill="#843C0C"/>
<text x="188.02" y="382.9" font-size="11.7" fill="#606060" text-anchor="middle" textLength="29.3" lengthAdjust="spacingAndGlyphs">15.02</text>
<rect x="224.13" y="375.2" width="7.1" height="6.8" fill="#A9D18E"/>
<text x="249.18" y="382.9" font-size="11.7" fill="#606060" text-anchor="middle" textLength="29.3" lengthAdjust="spacingAndGlyphs">05.02</text>
<rect x="285.29" y="375.2" width="7.1" height="6.8" fill="#FFD966"/>
<text x="310.34" y="382.9" font-size="11.7" fill="#606060" text-anchor="middle" textLength="29.3" lengthAdjust="spacingAndGlyphs">28.01</text>
<rect x="346.45" y="375.2" width="7.1" height="6.8" fill="#F4B183"/>
<text x="371.50" y="382.9" font-size="11.7" fill="#606060" text-anchor="middle" textLength="29.3" lengthAdjust="spacingAndGlyphs">22.01</text>
<rect x="407.61" y="375.2" width="7.1" height="6.8" fill="#5A8A39"/>
<text x="432.66" y="382.9" font-size="11.7" fill="#606060" text-anchor="middle" textLength="29.3" lengthAdjust="spacingAndGlyphs">15.01</text>
<rect x="468.77" y="375.2" width="7.1" height="6.8" fill="#CC9A00"/>
<text x="493.82" y="382.9" font-size="11.7" fill="#606060" text-anchor="middle" textLength="29.3" lengthAdjust="spacingAndGlyphs">08.01</text>
<rect x="529.93" y="375.2" width="7.1" height="6.8" fill="#D26012"/>
<text x="554.98" y="382.9" font-size="11.7" fill="#606060" text-anchor="middle" textLength="29.3" lengthAdjust="spacingAndGlyphs">01.01</text>
<rect x="591.09" y="375.2" width="7.1" height="6.8" fill="#8CC168"/>
<text x="616.14" y="382.9" font-size="11.7" fill="#606060" text-anchor="middle" textLength="29.3" lengthAdjust="spacingAndGlyphs">25.12</text>
<rect x="40.65" y="391.2" width="7.1" height="6.8" fill="#FFCD33"/>
<text x="65.70" y="398.9" font-size="11.7" fill="#606060" text-anchor="middle" textLength="29.3" lengthAdjust="spacingAndGlyphs">18.12</text>
<rect x="101.81" y="391.2" width="7.1" height="6.8" fill="#F1975A"/>
<text x="126.86" y="398.9" font-size="11.7" fill="#606060" text-anchor="middle" textLength="29.3" lengthAdjust="spacingAndGlyphs">11.12</text>
<rect x="162.97" y="391.2" width="7.1" height="6.8" fill="#43682B"/>
<text x="188.02" y="398.9" font-size="11.7" fill="#606060" text-anchor="middle" textLength="29.3" lengthAdjust="spacingAndGlyphs">04.12</text>
<rect x="224.13" y="391.2" width="7.1" height="6.8" fill="#ED7D31"/>
<text x="249.18" y="398.9" font-size="11.7" fill="#606060" text-anchor="middle" textLength="29.3" lengthAdjust="spacingAndGlyphs">27.11</text>
<rect x="285.29" y="391.2" width="7.1" height="6.8" fill="#FFC000"/>
<text x="310.34" y="398.9" font-size="11.7" fill="#606060" text-anchor="middle" textLength="29.3" lengthAdjust="spacingAndGlyphs">20.11</text>
<rect x="346.45" y="391.2" width="7.1" height="6.8" fill="#70AD47"/>
<text x="371.50" y="398.9" font-size="11.7" fill="#606060" text-anchor="middle" textLength="29.3" lengthAdjust="spacingAndGlyphs">13.11</text>
<rect x="407.61" y="391.2" width="7.1" height="6.8" fill="#9E480E"/>
<text x="432.66" y="398.9" font-size="11.7" fill="#606060" text-anchor="middle" textLength="29.3" lengthAdjust="spacingAndGlyphs">06.11</text>
<rect x="468.77" y="391.2" width="7.1" height="6.8" fill="#997300"/>
<text x="493.82" y="398.9" font-size="11.7" fill="#606060" text-anchor="middle" textLength="29.3" lengthAdjust="spacingAndGlyphs">30.10</text>
<rect x="0" y="0" width="640" height="1" fill="#DDDDDD"/>
<rect x="0" y="0" width="1" height="413" fill="#E2E2E2"/>
<rect x="638" y="0" width="2" height="413" fill="#E5E5E5"/>
<rect x="0" y="411" width="640" height="1" fill="#F1F1F1"/>
<rect x="0" y="412" width="640" height="1" fill="#DADADA"/>
</svg>
</body></html>
